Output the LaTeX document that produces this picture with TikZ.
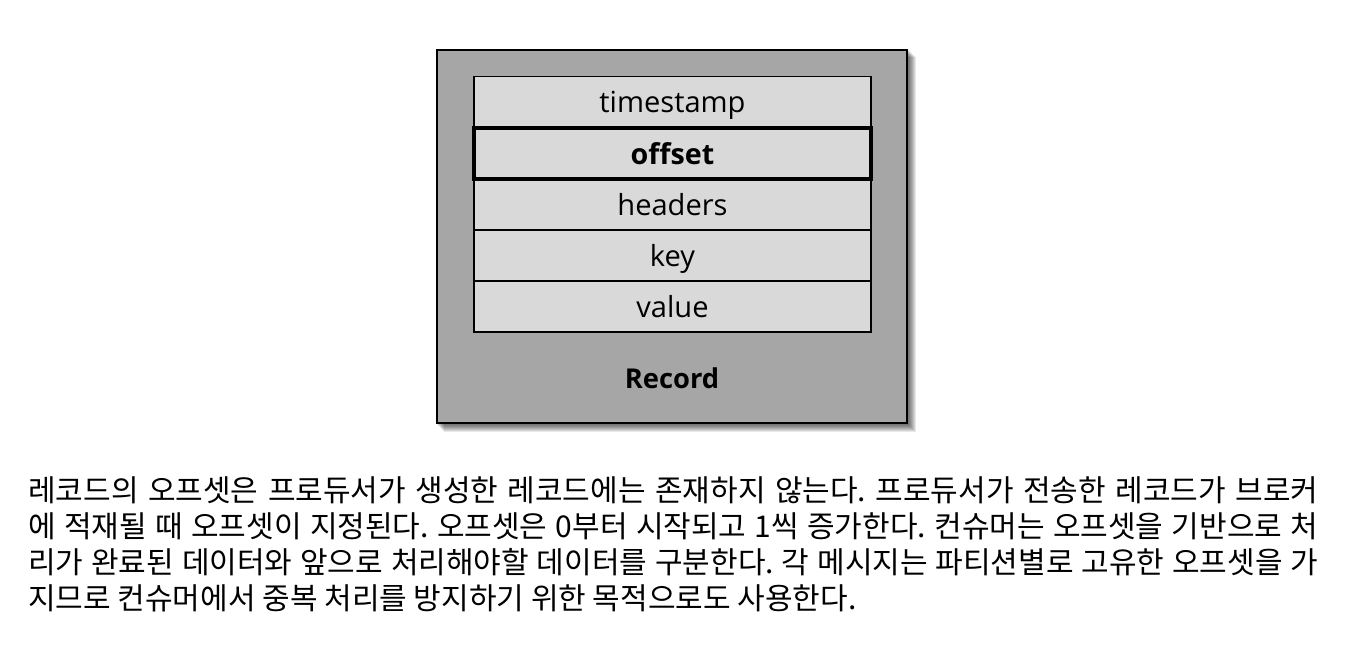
\documentclass[tikz,border=0pt]{standalone}
\usepackage{fontspec}
\setmainfont{Open Sans}
\newfontfamily\krfont{Noto Sans CJK KR}
\usetikzlibrary{backgrounds}
\frenchspacing
\definecolor{outergray}{HTML}{A6A6A6}
\definecolor{rowgray}{HTML}{D9D9D9}
\begin{document}
\begin{tikzpicture}[x=0.75pt,y=-0.75pt,
  outerbox/.style={draw=black, line width=2.2pt, fill=outergray, minimum width=352.5pt, minimum height=279.75pt, inner sep=0pt},
  rowbox/.style={draw=black, line width=1.4pt, fill=rowgray, minimum width=297.75pt, minimum height=38.25pt, inner sep=0pt,
    text height=17pt, text depth=1pt, font=\fontsize{21.8}{25}\selectfont},
  hlbox/.style={rowbox, line width=3pt, font=\fontsize{21.5}{25}\selectfont\bfseries},
  reclabel/.style={anchor=base, inner sep=0pt, font=\fontsize{20.5}{25}\selectfont\bfseries},
  krline/.style={anchor=base west, inner sep=0pt, font=\krfont\fontsize{22.5}{27}\selectfont}]
\useasboundingbox (0,0) rectangle (1348,650);

\node[outerbox] (rec) at (672,236.5) {};
\begin{scope}[on background layer]
  \fill[white] (0,0) rectangle (1348,650);
  \foreach \k in {1,...,8}{
    \fill[black, opacity=0.09] ([shift={(\k,\k)}]rec.south west) rectangle ([shift={(\k,\k)}]rec.north east);
  }
\end{scope}

\node[rowbox] (ts) at (672.5,102) {timestamp};
\node[rowbox] (hd) at (672.5,204.5) {headers};
\node[rowbox] (ky) at (672.5,255.5) {key};
\node[rowbox] (vl) at (672.5,306.5) {value};
\node[hlbox] (of) at (672.5,153.5) {offset};
\node[reclabel] (rl) at (672,388) {Record};

\node[krline] (l1) at (28,501) {\makebox[967.5pt][s]{레코드의 오프셋은 프로듀서가 생성한 레코드에는 존재하지 않는다. 프로듀서가 전송한 레코드가 브로커}};
\node[krline] (l2) at (28,537) {\makebox[967.5pt][s]{에 적재될 때 오프셋이 지정된다. 오프셋은 0부터 시작되고 1씩 증가한다. 컨슈머는 오프셋을 기반으로 처}};
\node[krline] (l3) at (28,573) {\makebox[967.5pt][s]{리가 완료된 데이터와 앞으로 처리해야할 데이터를 구분한다. 각 메시지는 파티션별로 고유한 오프셋을 가}};
\node[krline] (l4) at (28,609) {지므로 컨슈머에서 중복 처리를 방지하기 위한 목적으로도 사용한다.};
\end{tikzpicture}
\end{document}
